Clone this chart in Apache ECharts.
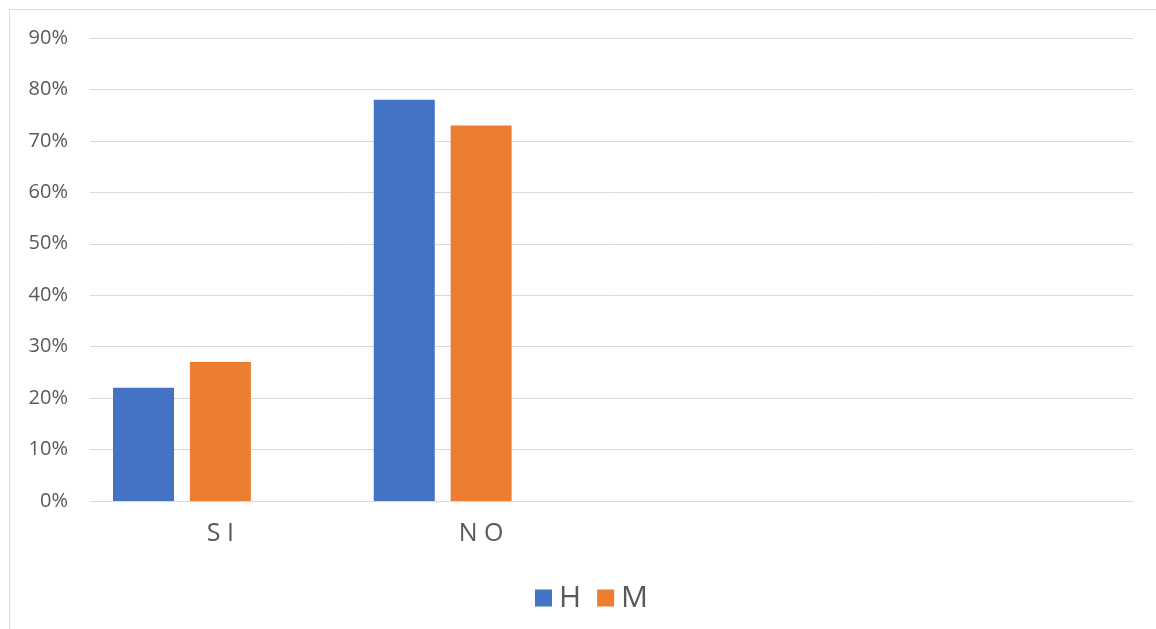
<!DOCTYPE html>
<html><head><meta charset="utf-8">
<script src="https://cdn.jsdelivr.net/npm/echarts@6/dist/echarts.min.js"></script>
<style>html,body{margin:0;padding:0;background:#fff}#c{width:1156px;height:629px}</style>
</head><body><div id="c"></div>
<script>
const categories = ['SI', 'NO', '', ''];
const seriesH = [22, 78, null, null];
const seriesM = [27, 73, null, null];
const seriesBlank = [null, null, null, null];
const yTicks = [0, 10, 20, 30, 40, 50, 60, 70, 80, 90];

const chart = echarts.init(document.getElementById('c'));
const font = '"Open Sans", "Noto Sans", sans-serif';
chart.setOption({
  animation: false,
  backgroundColor: '#fff',
  graphic: [{
    type: 'rect', shape: {x: 9.5, y: 9.5, width: 1300, height: 800},
    style: {fill: 'none', stroke: '#d9d9d9', lineWidth: 1}, silent: true
  }],
  grid: {left: 90, right: 23, top: 38, bottom: 128, containLabel: false},
  legend: {
    data: ['H', 'M'], left: 530, top: 576, icon: 'rect',
    itemWidth: 17, itemHeight: 17, itemGap: 16,
    textStyle: {fontSize: 30, lineHeight: 34, color: '#595959', fontFamily: font, padding: [0,0,0,2]}
  },
  xAxis: {
    type: 'category', data: categories,
    axisLine: {lineStyle: {color: '#d9d9d9', width: 1}},
    axisTick: {show: false},
    axisLabel: {fontSize: 25, color: '#595959', fontFamily: font, margin: 20,
      formatter: v => v.split('').join(' ')}
  },
  yAxis: {
    type: 'value', min: yTicks[0], max: yTicks[yTicks.length - 1], interval: 10,
    axisLabel: {formatter: '{value}%', fontSize: 20, color: '#595959', fontFamily: font, margin: 22},
    splitLine: {lineStyle: {color: '#d9d9d9', width: 1}},
    axisLine: {show: false}, axisTick: {show: false}
  },
  series: [
    {name: 'H', type: 'bar', data: seriesH, barWidth: 61, barGap: '26%', itemStyle: {color: '#4472C4'}},
    {name: 'M', type: 'bar', data: seriesM, barWidth: 61, barGap: '26%', itemStyle: {color: '#ED7D31'}},
    {name: '', type: 'bar', data: seriesBlank, barWidth: 61, barGap: '26%', itemStyle: {color: '#A5A5A5'}}
  ]
});
</script></body></html>
